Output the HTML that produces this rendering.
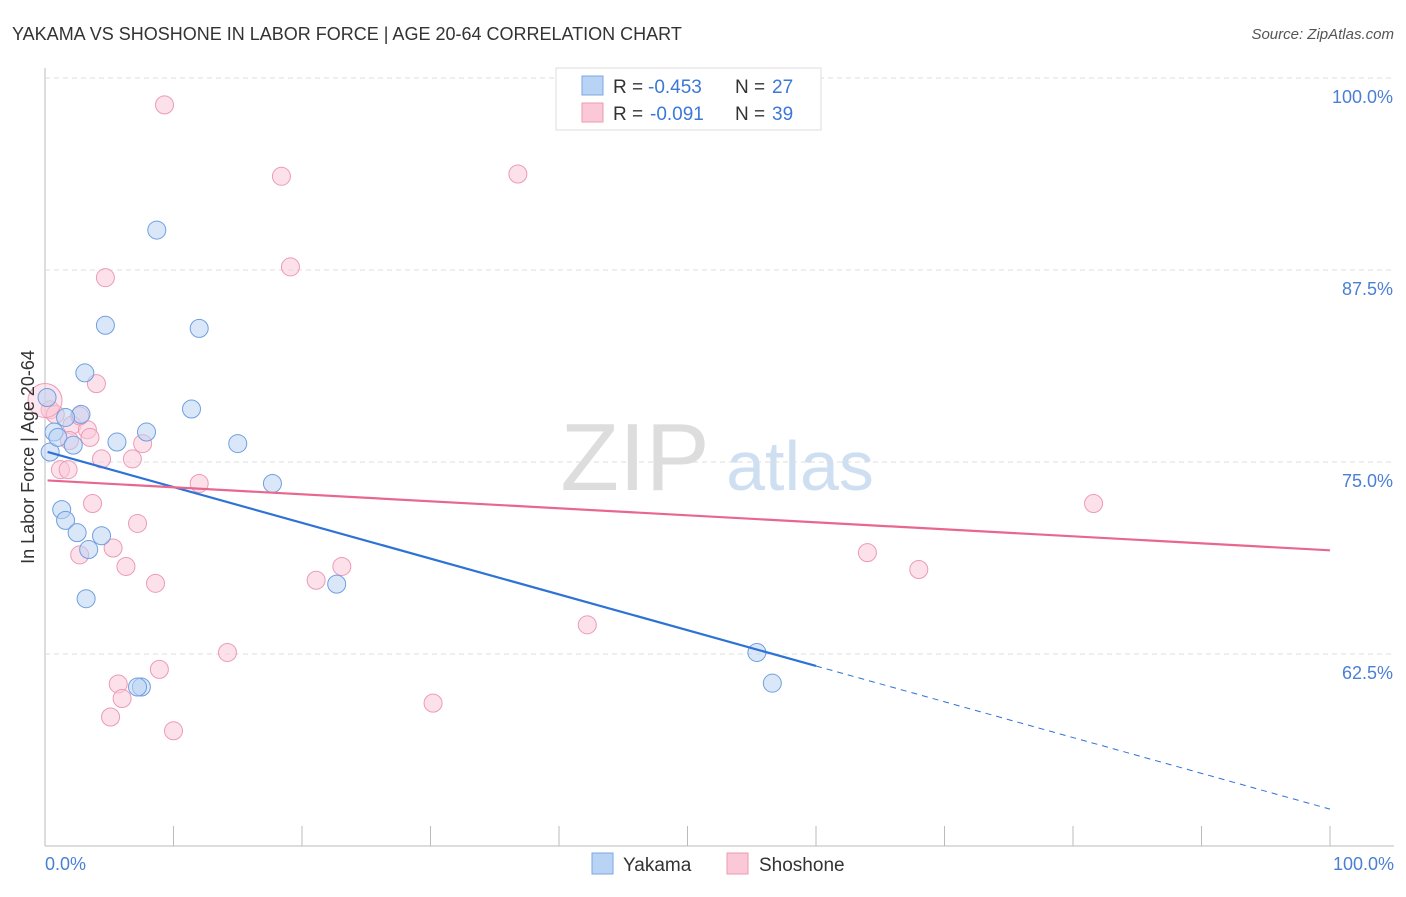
<!DOCTYPE html>
<html><head><meta charset="utf-8"><style>
body{margin:0;background:#fff;font-family:"Liberation Sans",sans-serif;}
svg text{font-family:"Liberation Sans",sans-serif;}
</style></head><body>
<svg id="c" width="1406" height="892" xmlns="http://www.w3.org/2000/svg">
<text x="12" y="40" font-size="18" fill="#333">YAKAMA VS SHOSHONE IN LABOR FORCE | AGE 20-64 CORRELATION CHART</text>
<text x="1394" y="39" font-size="15" fill="#555" font-style="italic" text-anchor="end">Source: ZipAtlas.com</text>
<text x="635" y="490" font-size="96" fill="#ddd" font-family="Liberation Serif" text-anchor="middle">ZIP</text>
<text x="800" y="490" font-size="70" fill="#cfdff2" text-anchor="middle">atlas</text>
<g id="grid"></g>
<g id="marks"></g>
<text transform="translate(34,457) rotate(-90)" font-size="18" fill="#333" text-anchor="middle">In Labor Force | Age 20-64</text>
<text x="45" y="870" font-size="18" fill="#4a7fd4">0.0%</text>
<text x="1394" y="870" font-size="18" fill="#4a7fd4" text-anchor="end">100.0%</text>
<g>
<rect x="556" y="68" width="265" height="62" fill="#fff" stroke="#ddd"/>
<rect x="582" y="76" width="21" height="19" fill="#b9d3f5" stroke="#7aa7e6"/>
<rect x="582" y="103" width="21" height="19" fill="#fbc8d8" stroke="#ec9ab5"/>
<text x="613" y="93" font-size="19" fill="#333">R =</text>
<text x="648" y="93" font-size="19" fill="#3b78d8">-0.453</text>
<text x="735" y="93" font-size="19" fill="#333">N =</text>
<text x="772" y="93" font-size="19" fill="#3b78d8">27</text>
<text x="613" y="120" font-size="19" fill="#333">R =</text>
<text x="650" y="120" font-size="19" fill="#3b78d8">-0.091</text>
<text x="735" y="120" font-size="19" fill="#333">N =</text>
<text x="772" y="120" font-size="19" fill="#3b78d8">39</text>
</g>
<g>
<rect x="592" y="853" width="21" height="21" fill="#b9d3f5" stroke="#7aa7e6"/>
<text x="623" y="871" font-size="19" fill="#333">Yakama</text>
<rect x="727" y="853" width="21" height="21" fill="#fbc8d8" stroke="#ec9ab5"/>
<text x="759" y="871" font-size="19" fill="#333">Shoshone</text>
</g>
</svg>
<script>
const yTicks=[100,87.5,75,62.5];
const yTickLabels=["100.0%","87.5%","75.0%","62.5%"];
const xTicks=[0,10,20,30,40,50,60,70,80,90,100];
const yakamaX=[0.16,0.7,0.4,1.0,2.2,1.3,1.6,2.5,3.4,4.4,3.2,2.8,3.1,4.7,5.6,7.9,8.7,12.0,11.4,15.0,17.7,22.7,7.5,7.2,55.4,56.6,1.6];
const yakamaY=[79.2,76.95,75.65,76.6,76.1,71.9,71.2,70.4,69.3,70.2,66.1,78.1,80.8,83.9,76.3,76.95,90.1,83.7,78.45,76.2,73.6,67.05,60.35,60.35,62.6,60.6,77.9];
const shoX=[9.3,18.4,36.8,19.1,4.7,4.0,0.4,0.8,2.1,3.3,3.5,1.9,1.2,1.8,4.4,6.8,7.6,12.0,3.7,7.2,2.7,5.3,6.3,8.6,21.1,23.1,42.2,14.2,8.9,5.7,6.0,5.1,10.0,30.2,64.0,68.0,81.6,2.7,0];
const shoY=[98.25,93.6,93.75,87.7,87.0,80.1,78.4,78.1,77.4,77.1,76.6,76.4,74.5,74.5,75.2,75.2,76.2,73.6,72.3,71.0,68.95,69.4,68.2,67.1,67.3,68.2,64.4,62.6,61.5,60.55,59.6,58.4,57.5,59.3,69.1,68.0,72.3,78.0,79.0];
const yakamaTrend=[75.7,52.4];
const shoTrend=[73.8,69.25];
const X=v=>45+v*12.85, Y=v=>78+(100-v)*15.36;
const NS="http://www.w3.org/2000/svg";
function mk(t,a,p){const e=document.createElementNS(NS,t);for(const k in a)e.setAttribute(k,a[k]);p.appendChild(e);return e;}
const g=document.getElementById('grid'), m=document.getElementById('marks');
mk('line',{x1:45,y1:68,x2:45,y2:846,stroke:'#bbb'},g);
mk('line',{x1:45,y1:846,x2:1394,y2:846,stroke:'#bbb'},g);
yTicks.forEach((v,i)=>{
 const l=mk('line',{x1:45,y1:Y(v),x2:1394,y2:Y(v),stroke:'#ddd','stroke-dasharray':'5,4'},g);
 
 
 const t=mk('text',{x:1393,y:Y(v)+25,'font-size':18,fill:'#4a7fd4','text-anchor':'end'},g);
 t.textContent=yTickLabels[i];
 
 
});
xTicks.forEach(v=>{
 const l=mk('line',{x1:X(v),y1:826,x2:X(v),y2:846,stroke:'#bbb'},g);
 
 
});
function pts(xs,ys,fill,stroke,name){
 xs.forEach((x,i)=>{
  const big=(name==='shoshone-point'&&i===xs.length-1);
  const c=mk('circle',{cx:X(x),cy:Y(ys[i]),r:big?17:9,fill:fill,'fill-opacity':big?0.45:0.55,stroke:stroke,'stroke-width':1},m);
  
  
 });
}
pts(shoX,shoY,'#fbc8d8','#ec9ab5','shoshone-point');
pts(yakamaX,yakamaY,'#bcd4f4','#6f9fe0','yakama-point');
const yv=x=>yakamaTrend[0]+(yakamaTrend[1]-yakamaTrend[0])*x/100;
let l=mk('line',{x1:X(0.2),y1:Y(yv(0.2)),x2:X(60),y2:Y(yv(60)),stroke:'#2f72d6','stroke-width':2.2},m);


l=mk('line',{x1:X(60),y1:Y(yv(60)),x2:X(100),y2:Y(yv(100)),stroke:'#2f72d6','stroke-width':1,'stroke-dasharray':'6,5'},m);


l=mk('line',{x1:X(0.2),y1:Y(shoTrend[0]),x2:X(100),y2:Y(shoTrend[1]),stroke:'#e8678f','stroke-width':2.2},m);


</script>
</body></html>
